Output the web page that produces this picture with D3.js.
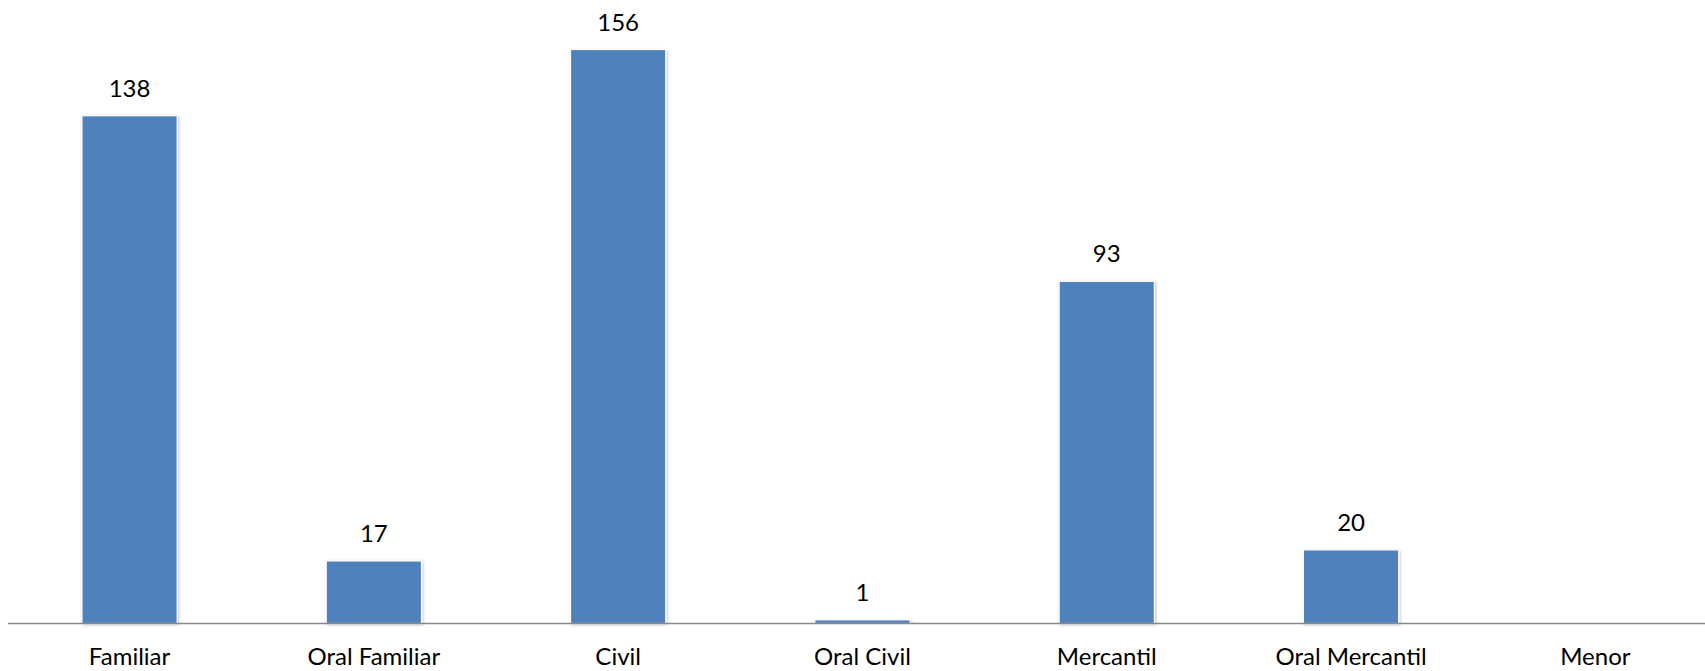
<html>
<head>
  <meta charset="utf-8">
  <script src="https://d3js.org/d3.v7.min.js"></script>
  <style>
    body { margin: 0; background: #fff; }
    text { font-family: Lato, "Open Sans", sans-serif; fill: #000; }
  </style>
</head>
<body>
<script>
  // chart data
  var categories = ["Familiar", "Oral Familiar", "Civil", "Oral Civil", "Mercantil", "Oral Mercantil", "Menor"];
  var values = [138, 17, 156, 1, 93, 20, null];

  var width = 1705, height = 671;

  var svg = d3.select("body").append("svg")
      .attr("width", width)
      .attr("height", height);

  // soft shadow round the bars
  var defs = svg.append("defs");
  var f = defs.append("filter").attr("id", "shadow")
      .attr("x", "-20%").attr("y", "-5%").attr("width", "140%").attr("height", "110%");
  f.append("feDropShadow")
      .attr("dx", 1).attr("dy", 1).attr("stdDeviation", 1.6)
      .attr("flood-color", "#000").attr("flood-opacity", 0.25);

  var x = d3.scaleBand()
      .domain(categories)
      .range([7.4, 1717.5])
      .paddingInner(0.61)
      .paddingOuter(0.305);

  var y = d3.scaleLinear()
      .domain([0, 156])
      .range([623.5, 49.5]);

  var data = categories.map(function(c, i) { return {name: c, value: values[i]}; });
  var shown = data.filter(function(d) { return d.value != null; });

  svg.append("g").selectAll("rect")
    .data(shown)
    .enter().append("rect")
      .attr("x", function(d) { return x(d.name); })
      .attr("y", function(d) { return y(d.value); })
      .attr("width", x.bandwidth())
      .attr("height", function(d) { return y(0) - y(d.value); })
      .attr("fill", "#4F81BD")
      .attr("stroke", "#fff")
      .attr("stroke-width", 1.2)
      .attr("filter", "url(#shadow)");

  // value labels
  svg.append("g").selectAll("text")
    .data(shown)
    .enter().append("text")
      .attr("x", function(d) { return x(d.name) + x.bandwidth() / 2; })
      .attr("y", function(d) { return y(d.value) - 19; })
      .attr("text-anchor", "middle")
      .style("font-size", "24px")
      .text(function(d) { return d.value; });

  // category axis
  var axis = svg.append("g")
      .attr("transform", "translate(0," + y(0) + ")")
      .call(d3.axisBottom(x).tickSize(0).tickPadding(0));
  axis.select(".domain").remove();
  axis.append("line")
      .attr("x1", 8).attr("x2", width)
      .attr("y1", 0).attr("y2", 0)
      .attr("stroke", "#888").attr("stroke-width", 1.6);
  axis.selectAll(".tick text")
      .attr("dy", null)
      .attr("y", 41.5)
      .style("font-family", "Lato, 'Open Sans', sans-serif")
      .style("font-size", "24px")
      .style("fill", "#000");
</script>
</body>
</html>
